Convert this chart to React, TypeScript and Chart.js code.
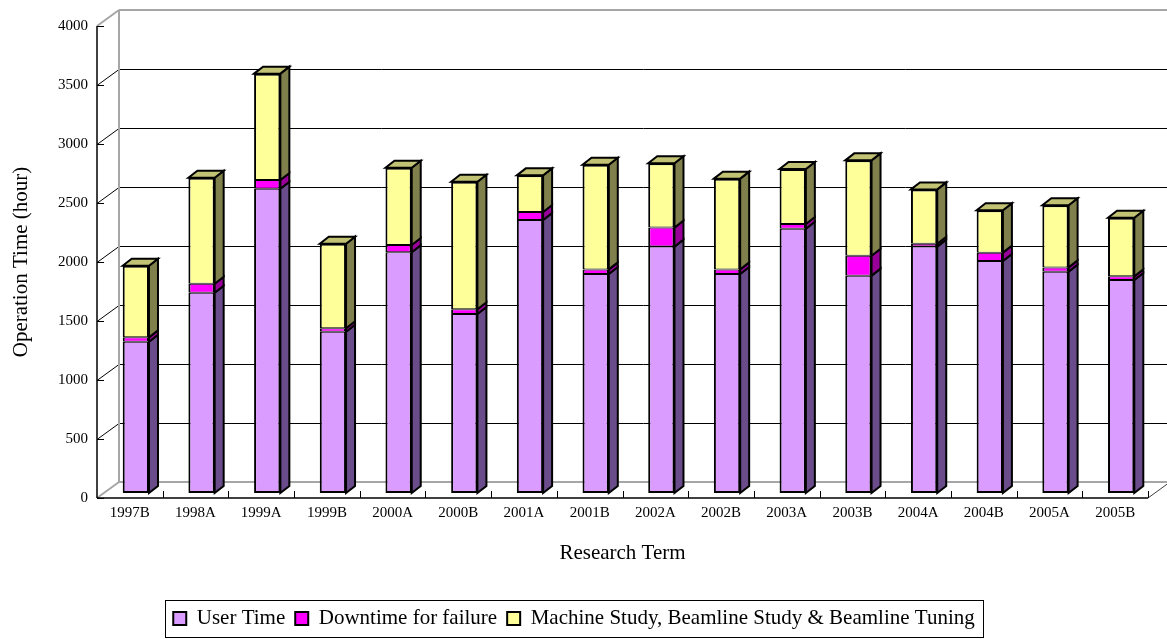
import React, { useEffect, useRef } from 'react';
import { Chart, registerables } from 'chart.js';

Chart.register(...registerables);

const categories = ['1997B', '1998A', '1999A', '1999B', '2000A', '2000B', '2001A', '2001B', '2002A', '2002B', '2003A', '2003B', '2004A', '2004B', '2005A', '2005B'];
const userTime = [1282, 1697, 2579, 1367, 2040, 1517, 2314, 1856, 2088, 1856, 2240, 1842, 2088, 1966, 1876, 1805];
const downtime = [37, 77, 74, 29, 62, 40, 67, 39, 161, 39, 40, 169, 25, 71, 36, 31];
const machineStudy = [607, 898, 901, 717, 655, 1081, 311, 887, 545, 769, 466, 808, 460, 359, 526, 497];
const yTicks = [0, 500, 1000, 1500, 2000, 2500, 3000, 3500, 4000];
const seriesLabels = ['User Time', 'Downtime for failure', 'Machine Study, Beamline Study & Beamline Tuning'];

const FONT = "'Liberation Serif', 'Times New Roman', serif";
const frontColors = ['#DA9CFF', '#FF00FF', '#FFFF99'];
const sideColors = ['#6A4C8A', '#990099', '#80804C'];
const topColor = '#C2C275';
const WALL = { dx: 22, dy: -16 };
const SHIFT = { dx: 6, dy: -5 };
const BAR = { dx: 9, dy: -7 };

function line(ctx: CanvasRenderingContext2D, x1: number, y1: number, x2: number, y2: number) {
  ctx.beginPath();
  ctx.moveTo(x1, y1);
  ctx.lineTo(x2, y2);
  ctx.stroke();
}

function poly(ctx: CanvasRenderingContext2D, pts: number[][], fill: string) {
  ctx.beginPath();
  ctx.moveTo(pts[0][0], pts[0][1]);
  for (let k = 1; k < pts.length; k++) ctx.lineTo(pts[k][0], pts[k][1]);
  ctx.closePath();
  ctx.fillStyle = fill;
  ctx.fill();
  ctx.lineWidth = 2;
  ctx.lineJoin = 'miter';
  ctx.strokeStyle = '#000';
  ctx.stroke();
}

const threeD = {
  id: 'threeD',
  beforeDatasetsDraw(chart: any) {
    const { ctx, chartArea: a, scales } = chart;
    const y = scales.y;
    const n = categories.length;
    const w = (a.right - a.left) / n;
    const y0 = y.getPixelForValue(0);
    const yT = y.getPixelForValue(4000);
    ctx.save();
    ctx.strokeStyle = '#000';
    ctx.lineWidth = 1;
    yTicks.forEach((v) => {
      if (v === 0 || v === 4000) return;
      const py = Math.round(y.getPixelForValue(v)) + 0.5;
      line(ctx, a.left, py, a.left + WALL.dx, py + WALL.dy);
      line(ctx, a.left + WALL.dx, py + WALL.dy, a.right + WALL.dx, py + WALL.dy);
    });
    ctx.strokeStyle = '#A6A6A6';
    ctx.lineWidth = 2;
    line(ctx, a.left + WALL.dx, yT + WALL.dy, a.right + WALL.dx, yT + WALL.dy);
    line(ctx, a.left + WALL.dx, yT + WALL.dy, a.left + WALL.dx, y0 + WALL.dy);
    line(ctx, a.left + WALL.dx, y0 + WALL.dy, a.right + WALL.dx, y0 + WALL.dy);
    line(ctx, a.left, yT, a.left + WALL.dx, yT + WALL.dy);
    line(ctx, a.left, y0, a.left + WALL.dx, y0 + WALL.dy);
    ctx.strokeStyle = '#404040';
    ctx.lineWidth = 1;
    line(ctx, a.right, y0, a.right + WALL.dx, y0 + WALL.dy);
    ctx.strokeStyle = '#000';
    ctx.lineWidth = 1.5;
    line(ctx, a.left, yT, a.left, y0);
    line(ctx, a.left, y0, a.right, y0);
    ctx.lineWidth = 1;
    yTicks.forEach((v) => {
      const py = Math.round(y.getPixelForValue(v)) + 0.5;
      line(ctx, a.left, py, a.left + 7, py);
    });
    for (let k = 1; k <= n; k++) {
      const px = Math.round(a.left + k * w) + 0.5;
      line(ctx, px, y0, px, y0 - 7);
    }
    ctx.restore();
    ctx.save();
    ctx.translate(SHIFT.dx, SHIFT.dy);
  },
  afterDatasetsDraw(chart: any) {
    const { ctx } = chart;
    const nds = chart.data.datasets.length;
    for (let j = 0; j < categories.length; j++) {
      for (let i = 0; i < nds; i++) {
        const el = chart.getDatasetMeta(i).data[j];
        const { x, y, base, width } = el.getProps(['x', 'y', 'base', 'width'], true);
        const l = x - width / 2;
        const r = x + width / 2;
        const top = Math.min(y, base);
        const bot = Math.max(y, base);
        poly(ctx, [[r, top], [r + BAR.dx, top + BAR.dy], [r + BAR.dx, bot + BAR.dy], [r, bot]], sideColors[i]);
        if (i === nds - 1) {
          poly(ctx, [[l, top], [l + BAR.dx, top + BAR.dy], [r + BAR.dx, top + BAR.dy], [r, top]], topColor);
        }
      }
    }
    ctx.restore();
  },
  afterDraw(chart: any) {
    const lg = chart.legend;
    if (!lg || !lg.legendHitBoxes || !lg.legendHitBoxes.length) return;
    const hb = lg.legendHitBoxes;
    const first = hb[0];
    const last = hb[hb.length - 1];
    const cy = first.top + first.height / 2;
    const ctx = chart.ctx;
    ctx.save();
    ctx.strokeStyle = '#000';
    ctx.lineWidth = 1;
    const l = Math.round(first.left - 8) + 0.5;
    const r = Math.round(last.left + last.width + 8) + 0.5;
    ctx.strokeRect(l, Math.round(cy - 18.5) + 0.5, r - l, 37);
    ctx.restore();
  },
};

export default function App() {
  const ref = useRef<HTMLCanvasElement>(null);
  useEffect(() => {
    if (!ref.current) return;
    const seriesData = [userTime, downtime, machineStudy];
    const borders = [
      { top: 1, bottom: 2, left: 2, right: 2 },
      { top: 1, bottom: 1, left: 2, right: 2 },
      { top: 2, bottom: 1, left: 2, right: 2 },
    ];
    const chart = new Chart(ref.current, {
      type: 'bar',
      data: {
        labels: categories,
        datasets: seriesData.map((d, i) => ({
          label: seriesLabels[i],
          data: d,
          backgroundColor: frontColors[i],
          borderColor: '#000',
          borderWidth: borders[i] as any,
          borderSkipped: false as any,
          barPercentage: 0.4,
          categoryPercentage: 1,
          clip: false as any,
        })),
      },
      options: {
        responsive: false,
        animation: false,
        devicePixelRatio: 1,
        layout: { padding: { top: 26, right: 19, bottom: 0, left: 0 } },
        scales: {
          x: {
            stacked: true,
            grid: { display: false, drawTicks: false },
            border: { display: false },
            ticks: { color: '#000', font: { family: FONT, size: 15 }, padding: 6, maxRotation: 0, autoSkip: false },
            title: { display: true, text: 'Research Term', color: '#000', font: { family: FONT, size: 21 }, padding: { top: 0, bottom: 32 } },
            afterFit: (s: any) => { s.height = 100; },
          },
          y: {
            stacked: true,
            min: 0,
            max: 4000,
            grid: { display: false, drawTicks: false },
            border: { display: false },
            ticks: { stepSize: 500, color: '#000', font: { family: FONT, size: 15 }, padding: 9, callback: (v: any) => String(v) },
            title: { display: true, text: 'Operation Time (hour)', color: '#000', font: { family: FONT, size: 21 }, padding: { top: 9, bottom: 0 } },
            afterFit: (s: any) => { s.width = 97; },
          },
        },
        plugins: {
          legend: {
            position: 'bottom',
            labels: {
              boxWidth: 13,
              boxHeight: 13,
              padding: 10,
              color: '#000',
              font: { family: FONT, size: 21 },
              generateLabels: (c: any) =>
                (Chart.defaults.plugins.legend.labels.generateLabels as any)(c).map((it: any) => ({ ...it, lineWidth: 2 })),
            },
          },
          tooltip: { enabled: false },
        },
      },
      plugins: [threeD as any],
    });
    return () => chart.destroy();
  }, []);
  return (
    <div style={{ position: 'fixed', left: 0, top: 0, width: 1167, height: 639, background: '#fff' }}>
      <canvas ref={ref} width={1167} height={639} style={{ display: 'block' }} />
    </div>
  );
}
